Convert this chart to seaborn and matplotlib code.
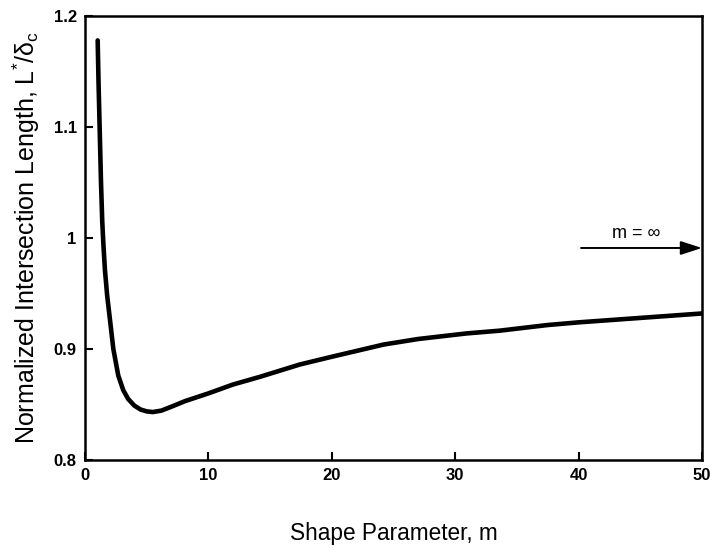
import matplotlib
matplotlib.use("Agg")
import matplotlib.pyplot as plt
import seaborn as sns
import pandas as pd

# Data
m_vals = [1.03, 1.1, 1.2, 1.3, 1.4, 1.5, 1.62, 1.8, 2.03, 2.3, 2.7, 3.1, 3.5,
          4.0, 4.5, 5.0, 5.5, 6.2, 7.0, 8.1, 10, 12, 14.2, 17.4, 20, 24.2,
          27, 30.9, 33.6, 37.5, 40, 45, 50]
L_vals = [1.178, 1.14, 1.095, 1.050, 1.015, 0.993, 0.971, 0.948, 0.926, 0.900,
          0.876, 0.863, 0.855, 0.849, 0.8455, 0.8438, 0.8432, 0.8445, 0.848, 0.853,
          0.860, 0.868, 0.875, 0.886, 0.893, 0.904, 0.909, 0.914, 0.9165,
          0.9216, 0.924, 0.928, 0.932]
x_ticks = [0, 10, 20, 30, 40, 50]
y_ticks = [0.8, 0.9, 1.0, 1.1, 1.2]
y_tick_labels = ["0.8", "0.9", "1", "1.1", "1.2"]
arrow_y = 0.991
arrow_x0, arrow_x1 = 40.2, 50
label_text = "m = \u221e"

sns.set_style("ticks")
plt.rcParams["font.family"] = ["Liberation Sans", "DejaVu Sans"]
plt.rcParams["mathtext.fontset"] = "custom"
plt.rcParams["mathtext.rm"] = "Liberation Sans"
plt.rcParams["mathtext.it"] = "Liberation Sans:italic"
plt.rcParams["text.color"] = "black"
plt.rcParams["axes.labelcolor"] = "black"
plt.rcParams["xtick.color"] = "black"
plt.rcParams["ytick.color"] = "black"

df = pd.DataFrame({"m": m_vals, "L": L_vals})

fig = plt.figure(figsize=(7.11, 5.48), dpi=100)
ax = fig.add_axes([0.1195, 0.1606, 0.8678, 0.8102])
sns.lineplot(data=df, x="m", y="L", ax=ax, color="black", linewidth=3.3)

ax.set_xlim(0, 50)
ax.set_ylim(0.8, 1.2)
ax.set_xticks(x_ticks)
ax.set_yticks(y_ticks)
ax.set_yticklabels(y_tick_labels)
ax.tick_params(direction="in", length=6, width=1.5, labelsize=12, pad=6,
               colors="black")
for lab in ax.get_xticklabels() + ax.get_yticklabels():
    lab.set_fontweight("bold")
for s in ax.spines.values():
    s.set_visible(True)
    s.set_linewidth(1.8)
    s.set_color("black")

ax.set_xlabel("Shape Parameter, m", fontsize=16.3, labelpad=28)
ax.set_ylabel("Normalized Intersection Length, L$^{*}$/\u03b4$_{\\mathrm{c}}$",
              fontsize=18, labelpad=8)

ax.annotate("", xy=(arrow_x1, arrow_y), xytext=(arrow_x0, arrow_y),
            arrowprops=dict(arrowstyle="-|>,head_length=1.3,head_width=0.42",
                            color="black", lw=1.4, shrinkA=0, shrinkB=0))
ax.text(44.7, 1.004, label_text, ha="center", va="center", fontsize=13)

fig.savefig("out.png", dpi=100)
